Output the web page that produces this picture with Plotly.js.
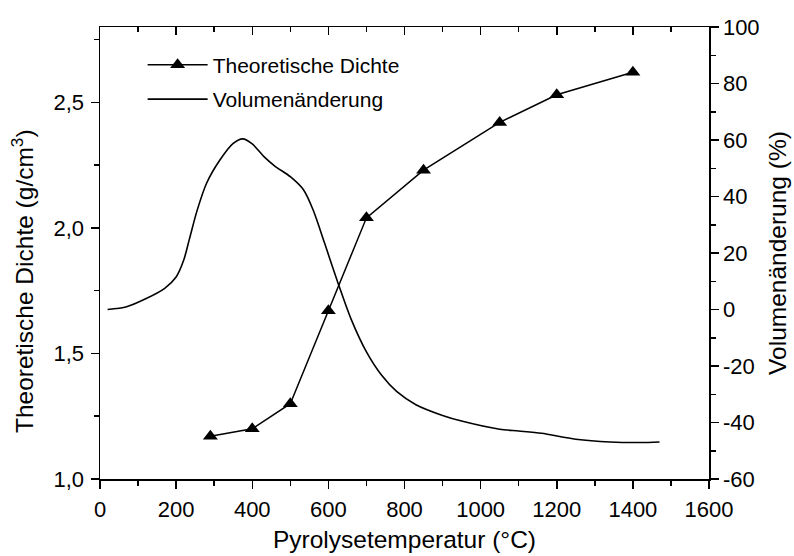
<!DOCTYPE html>
<html>
<head>
<meta charset="utf-8">
<script src="https://cdn.plot.ly/plotly-3.0.1.min.js"></script>
<style>
  html, body { margin: 0; padding: 0; background: #fff; }
  #chart { width: 794px; height: 556px; }
</style>
</head>
<body>
<div id="chart"></div>
<script>
// Theoretical density after pyrolysis (left axis, g/cm³)
const densityTemp = [290, 400, 500, 600, 700, 850, 1050, 1200, 1400];
const densityValues = [1.17, 1.20, 1.30, 1.67, 2.04, 2.23, 2.42, 2.53, 2.62];

// Volume change during heating (right axis, %)
const volumeTemp = [20, 70, 120, 170, 200, 220, 235, 255, 280, 315, 350, 375, 400, 430, 460,
  500, 535, 560, 590, 625, 660, 700, 740, 780, 830, 900, 950, 1050, 1100, 1160, 1250, 1340, 1420, 1470];
const volumeValues = [0, 1, 3.8, 7.5, 11.5, 17.5, 25, 35, 44.7, 52.9, 58.8, 60.4, 58.6, 54.2, 50.7,
  47, 42.3, 35.2, 23.5, 9.5, -3.5, -15, -23.3, -29.1, -33.7, -37.5, -39.5, -42.4, -43, -43.8, -45.9, -46.9, -47.1, -46.9];

// Tick labels
const rightTickVals = [-60, -40, -20, 0, 20, 40, 60, 80, 100];
const rightTickText = ['-60', '-40', '-20', '0', '20', '40', '60', '80', '100'];
const leftTickVals = [1.0, 1.5, 2.0, 2.5];
const leftTickText = ['1,0', '1,5', '2,0', '2,5'];

const FONT = 'Liberation Sans, Arial, Helvetica, sans-serif';
const TICK_FONT = { family: FONT, size: 22, color: '#000' };
const TITLE_FONT = { family: FONT, size: 24.5, color: '#000' };

const traces = [
  {
    x: densityTemp, y: densityValues,
    xaxis: 'x', yaxis: 'y',
    type: 'scatter', mode: 'lines+markers',
    name: 'Theoretische Dichte',
    legendgroup: 'a',
    line: { color: '#000', width: 1.5 },
    marker: { symbol: 'triangle-up', size: 13, color: '#000' }
  },
  {
    x: volumeTemp, y: volumeValues,
    xaxis: 'x', yaxis: 'y2',
    type: 'scatter', mode: 'lines',
    name: 'Volumenänderung',
    legendgroup: 'b',
    line: { color: '#000', width: 1.6, shape: 'spline', smoothing: 0.8 }
  },
  {
    // carries the top frame axis
    x: [], y: [], xaxis: 'x2', yaxis: 'y',
    type: 'scatter', mode: 'lines', showlegend: false, hoverinfo: 'skip'
  }
];

const axisBase = {
  showline: true, linecolor: '#000', linewidth: 1.5,
  ticks: 'outside', ticklen: 8, tickwidth: 1.5, tickcolor: '#000',
  showgrid: false, zeroline: false,
  tickfont: TICK_FONT
};

const layout = {
  width: 794, height: 556,
  margin: { l: 100, r: 85, t: 27, b: 77 },
  paper_bgcolor: '#fff', plot_bgcolor: '#fff',
  separators: ',.',
  font: { family: FONT, color: '#000' },
  showlegend: true,
  legend: {
    x: 0.07, y: 0.961, xanchor: 'left', yanchor: 'top',
    bgcolor: 'rgba(0,0,0,0)', borderwidth: 0,
    font: { family: FONT, size: 21, color: '#000' },
    traceorder: 'grouped', tracegroupgap: 4,
    itemwidth: 60
  },
  xaxis: Object.assign({}, axisBase, {
    range: [0, 1600], tick0: 0, dtick: 200,
    minor: { ticks: 'outside', ticklen: 5, tickwidth: 1.5, tickcolor: '#000', dtick: 100, tick0: 0 },
    title: { text: 'Pyrolysetemperatur (°C)', font: TITLE_FONT, standoff: 10 },
    ticklabelstandoff: 2
  }),
  xaxis2: Object.assign({}, axisBase, {
    overlaying: 'x', matches: 'x', side: 'top', anchor: 'y',
    range: [0, 1600], tick0: 0, dtick: 200,
    ticks: 'inside', showticklabels: false,
    minor: { ticks: 'inside', ticklen: 5, tickwidth: 1.5, tickcolor: '#000', dtick: 100, tick0: 0 }
  }),
  yaxis: Object.assign({}, axisBase, {
    range: [1.0, 2.8],
    tickmode: 'array', tickvals: leftTickVals, ticktext: leftTickText,
    minor: { ticks: 'outside', ticklen: 5, tickwidth: 1.5, tickcolor: '#000', dtick: 0.25, tick0: 1.0 },
    ticklabelstandoff: 2
  }),
  yaxis2: Object.assign({}, axisBase, {
    overlaying: 'y', side: 'right', anchor: 'x',
    range: [-60, 100],
    tickmode: 'array', tickvals: rightTickVals, ticktext: rightTickText,
    minor: { ticks: 'outside', ticklen: 5, tickwidth: 1.5, tickcolor: '#000', dtick: 10, tick0: 0 },
    title: { text: 'Volumenänderung (%)', font: TITLE_FONT, standoff: 10 },
    ticklabelstandoff: 0
  }),
  annotations: [
    {
      text: 'Theoretische Dichte (g/cm<sup>3</sup>)',
      xref: 'paper', yref: 'paper',
      x: -0.128, y: 0.438,
      xanchor: 'center', yanchor: 'middle',
      textangle: -90, showarrow: false,
      font: TITLE_FONT
    }
  ]
};

Plotly.newPlot('chart', traces, layout, { displayModeBar: false, staticPlot: true });
</script>
</body>
</html>
